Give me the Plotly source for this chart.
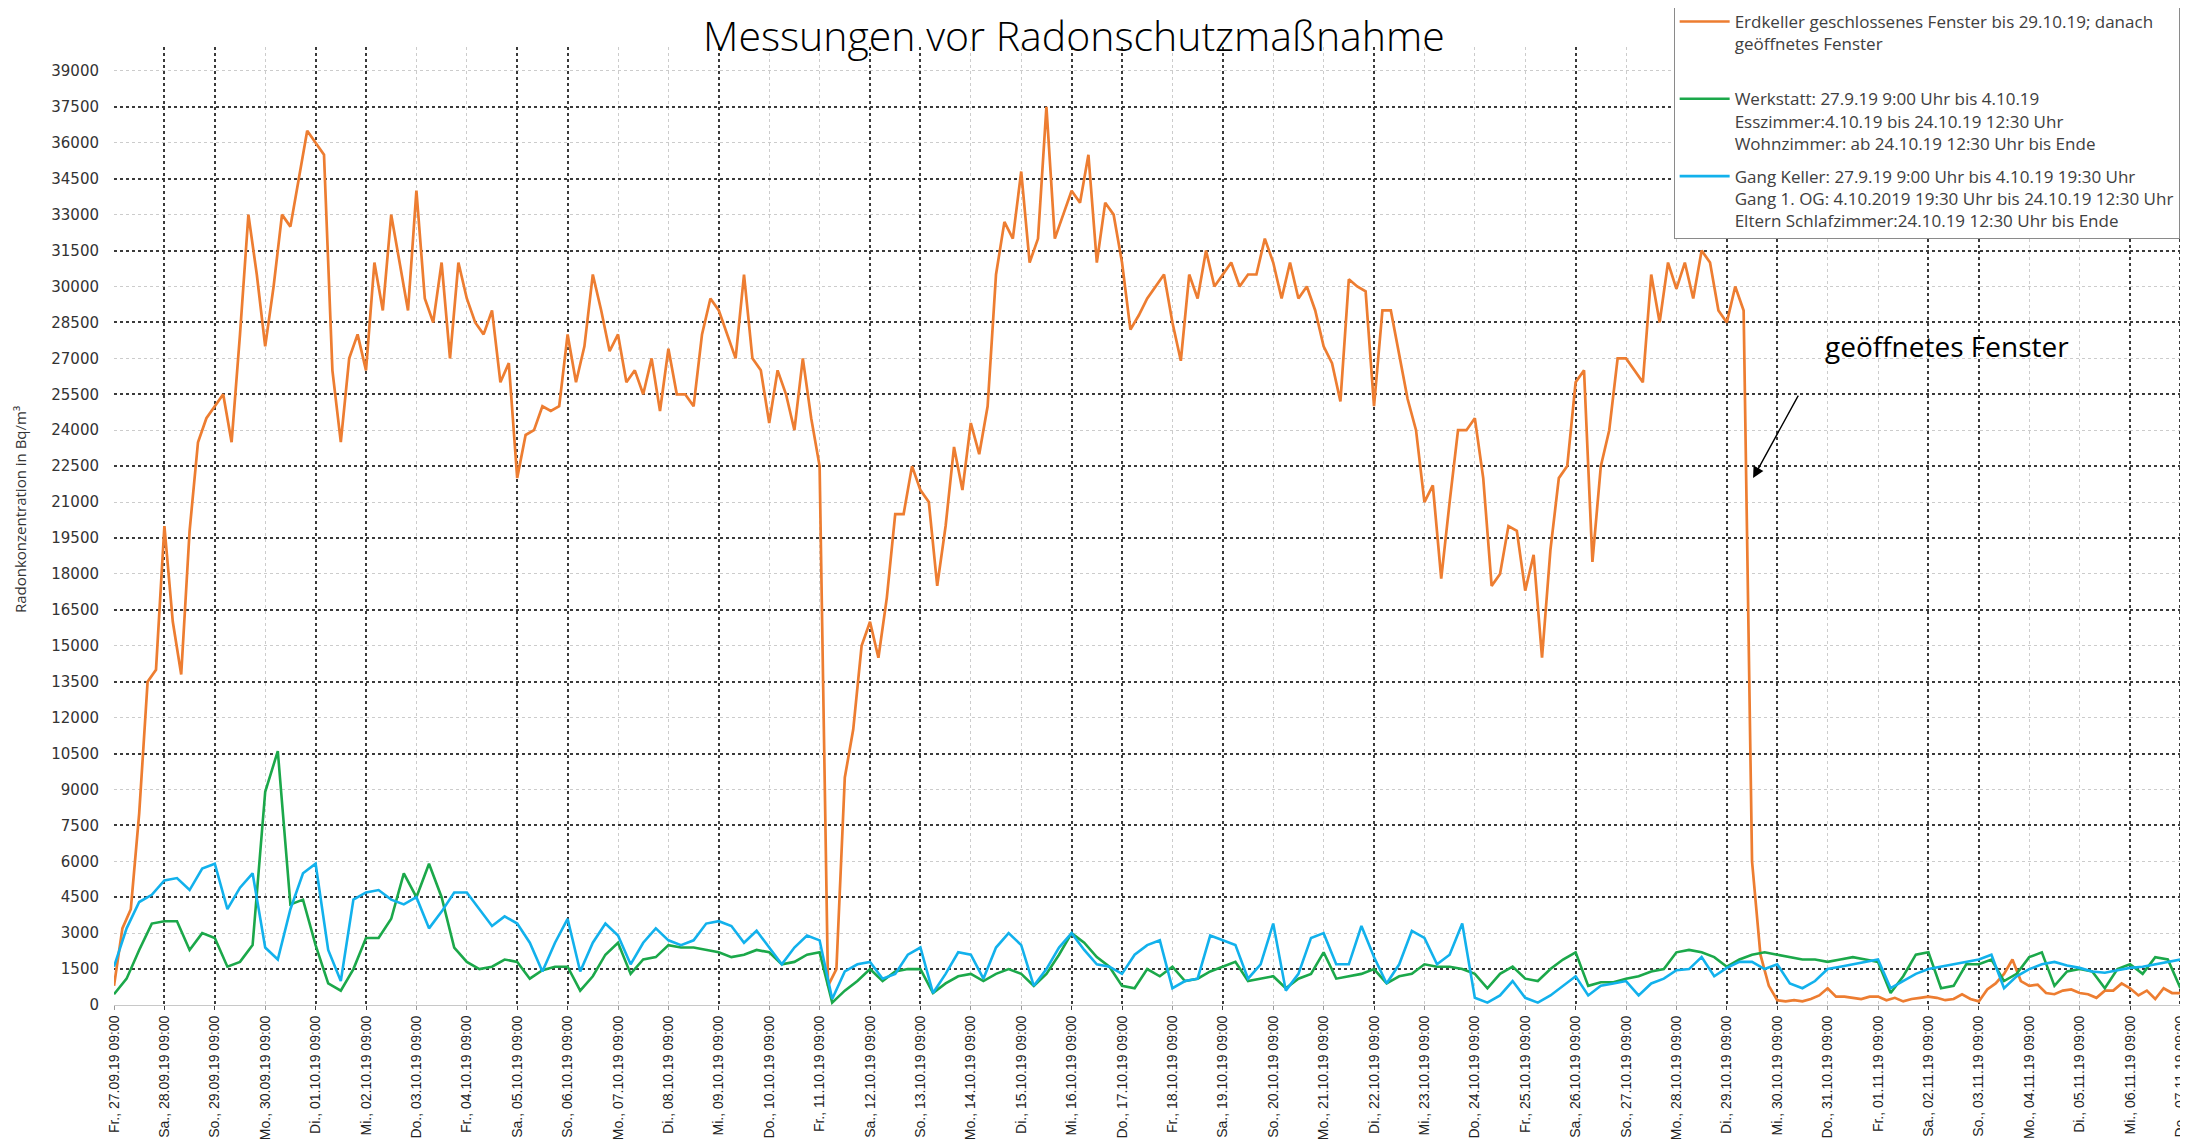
import pandas as pd
import plotly.graph_objects as go

# Messwerte in Bq/m³, Erdkeller alle 4 Stunden, die anderen alle 6 Stunden ab 27.09.19 09:00
ERDKELLER = [
    800, 3200, 4000, 8000, 13500, 14000,
    20000, 16000, 13800, 19800, 23500, 24500,
    25000, 25500, 23500, 28000, 33000, 30500,
    27500, 30000, 33000, 32500, 34500, 36500,
    36000, 35500, 26500, 23500, 27000, 28000,
    26500, 31000, 29000, 33000, 31000, 29000,
    34000, 29500, 28500, 31000, 27000, 31000,
    29500, 28500, 28000, 29000, 26000, 26800,
    22000, 23800, 24000, 25000, 24800, 25000,
    28000, 26000, 27500, 30500, 29000, 27300,
    28000, 26000, 26500, 25500, 27000, 24800,
    27400, 25500, 25500, 25000, 28000, 29500,
    29000, 28000, 27000, 30500, 27000, 26500,
    24300, 26500, 25500, 24000, 27000, 24500,
    22500, 800, 1500, 9500, 11500, 15000,
    16000, 14500, 17000, 20500, 20500, 22500,
    21500, 21000, 17500, 20000, 23300, 21500,
    24300, 23000, 25000, 30500, 32700, 32000,
    34800, 31000, 32000, 37500, 32000, 33000,
    34000, 33500, 35500, 31000, 33500, 33000,
    31000, 28200, 28800, 29500, 30000, 30500,
    28500, 26900, 30500, 29500, 31500, 30000,
    30500, 31000, 30000, 30500, 30500, 32000,
    31000, 29500, 31000, 29500, 30000, 29000,
    27500, 26800, 25200, 30300, 30000, 29800,
    25000, 29000, 29000, 27200, 25300, 24000,
    21000, 21700, 17800, 21000, 24000, 24000,
    24500, 22000, 17500, 18000, 20000, 19800,
    17300, 18800, 14500, 19000, 22000, 22500,
    26000, 26500, 18500, 22500, 24000, 27000,
    27000, 26500, 26000, 30500, 28500, 31000,
    29900, 31000, 29500, 31500, 31000, 29000,
    28500, 30000, 29000, 6000, 2100, 800,
    200, 150, 200, 150, 250, 400,
    700, 350, 350, 300, 250, 350,
    350, 200, 300, 150, 250, 300,
    350, 300, 200, 250, 450, 250,
    150, 650, 900, 1300, 1900, 1000,
    800, 850, 500, 450, 600, 650,
    500, 450, 300, 600, 600, 900,
    700, 400, 600, 250, 700, 500,
    500, 1100,
]

WERKSTATT = [
    450, 1100, 2300, 3400,
    3500, 3500, 2300, 3000,
    2800, 1600, 1800, 2500,
    8900, 10600, 4200, 4400,
    2500, 900, 600, 1500,
    2800, 2800, 3600, 5500,
    4500, 5900, 4500, 2400,
    1800, 1500, 1600, 1900,
    1800, 1100, 1450, 1600,
    1600, 600, 1200, 2100,
    2600, 1300, 1900, 2000,
    2500, 2400, 2400, 2300,
    2200, 2000, 2100, 2300,
    2200, 1700, 1800, 2100,
    2200, 100, 600, 1000,
    1500, 1000, 1400, 1500,
    1500, 500, 900, 1200,
    1300, 1000, 1300, 1500,
    1300, 800, 1300, 2100,
    3000, 2600, 2000, 1600,
    800, 700, 1500, 1200,
    1600, 1000, 1100, 1400,
    1600, 1800, 1000, 1100,
    1200, 700, 1100, 1300,
    2200, 1100, 1200, 1300,
    1500, 900, 1200, 1300,
    1700, 1600, 1600, 1500,
    1300, 700, 1300, 1600,
    1100, 1000, 1500, 1900,
    2200, 800, 950, 950,
    1100, 1200, 1400, 1500,
    2200, 2300, 2200, 2000,
    1600, 1900, 2100, 2200,
    2100, 2000, 1900, 1900,
    1800, 1900, 2000, 1900,
    1800, 500, 1200, 2100,
    2200, 700, 800, 1700,
    1700, 1900, 1000, 1300,
    2000, 2200, 800, 1400,
    1500, 1400, 700, 1500,
    1700, 1300, 2000, 1900,
    700,
]

GANG = [
    1600, 3200, 4300, 4600,
    5200, 5300, 4800, 5700,
    5900, 4000, 4900, 5500,
    2400, 1900, 4000, 5500,
    5900, 2300, 1000, 4400,
    4700, 4800, 4400, 4200,
    4500, 3200, 3900, 4700,
    4700, 4000, 3300, 3700,
    3400, 2600, 1400, 2600,
    3600, 1400, 2600, 3400,
    2900, 1700, 2600, 3200,
    2700, 2500, 2700, 3400,
    3500, 3300, 2600, 3100,
    2400, 1700, 2400, 2900,
    2700, 250, 1400, 1700,
    1800, 1100, 1300, 2100,
    2400, 500, 1300, 2200,
    2100, 1100, 2400, 3000,
    2500, 800, 1500, 2400,
    3000, 2300, 1700, 1600,
    1300, 2100, 2500, 2700,
    700, 1000, 1100, 2900,
    2700, 2500, 1100, 1700,
    3400, 600, 1300, 2800,
    3000, 1700, 1700, 3300,
    2000, 900, 1700, 3100,
    2800, 1700, 2100, 3400,
    300, 100, 400, 1000,
    300, 100, 400, 800,
    1200, 400, 800, 900,
    1000, 400, 900, 1100,
    1450, 1500, 2000, 1200,
    1550, 1800, 1800, 1500,
    1700, 900, 700, 1000,
    1500, 1600, 1700, 1800,
    1900, 700, 1000, 1300,
    1500, 1600, 1700, 1800,
    1900, 2100, 700, 1200,
    1500, 1700, 1800, 1650,
    1550, 1400, 1350, 1450,
    1550, 1600, 1700, 1800,
    1900,
]

NAME_ERDKELLER = "Erdkeller geschlossenes Fenster bis 29.10.19; danach<br>geöffnetes Fenster<br>&nbsp;"
NAME_WERKSTATT = ("Werkstatt: 27.9.19 9:00 Uhr bis 4.10.19<br>Esszimmer:4.10.19 bis 24.10.19 12:30 Uhr"
                  "<br>Wohnzimmer: ab 24.10.19 12:30 Uhr bis Ende")
NAME_GANG = ("Gang Keller: 27.9.19 9:00 Uhr bis 4.10.19 19:30 Uhr<br>Gang 1. OG: 4.10.2019 19:30 Uhr bis 24.10.19 12:30 Uhr"
             "<br>Eltern Schlafzimmer:24.10.19 12:30 Uhr bis Ende")

WOCHENTAGE = ['Mo.', 'Di.', 'Mi.', 'Do.', 'Fr.', 'Sa.', 'So.']
Y_TICKS = list(range(0, 39001, 1500))
DUNKLE_TAGE = [1, 2, 4, 5, 8, 9, 12, 15, 16, 19, 20, 22, 25, 29, 32, 33, 36, 37, 40, 41]

start = pd.Timestamp('2019-09-27 09:00')
ende = start + pd.Timedelta(days=41.15)
zeit_4h = pd.date_range(start, periods=len(ERDKELLER), freq='4h')
zeit_6h = pd.date_range(start, periods=len(WERKSTATT), freq='6h')
tage = pd.date_range(start, periods=42, freq='D')
tag_labels = [f"{WOCHENTAGE[t.dayofweek]}, {t:%d.%m.%y} 09:00" for t in tage]

fig = go.Figure()
fig.add_trace(go.Scatter(x=zeit_4h, y=ERDKELLER, mode='lines', name=NAME_ERDKELLER,
                         line=dict(color='#ED7D31', width=2.7), legendgroup='a'))
fig.add_trace(go.Scatter(x=zeit_6h, y=WERKSTATT, mode='lines', name=NAME_WERKSTATT,
                         line=dict(color='#1BA84A', width=2.6), legendgroup='b'))
fig.add_trace(go.Scatter(x=zeit_6h, y=GANG, mode='lines', name=NAME_GANG,
                         line=dict(color='#12B1EC', width=2.6), legendgroup='c'))
# leere Spur, damit die zweite Achse (dunkles Gitter) gezeichnet wird
fig.add_trace(go.Scatter(x=[], y=[], xaxis='x2', yaxis='y2', showlegend=False, hoverinfo='skip'))

hell = '#cccccc'
dunkel = '#3a3a3a'

# die Seite hat 8px Rand, daher Figur 8px kleiner und nach oben/links verschoben
fig.update_layout(
    width=2180, height=1136,
    margin=dict(l=106, r=0, t=39, b=139, autoexpand=False),
    paper_bgcolor='white', plot_bgcolor='white',
    font=dict(family='DejaVu Sans', color='#333'),
    xaxis=dict(type='date', range=[start, ende], tickvals=tage, ticktext=tag_labels, tickangle=-90,
               tickfont=dict(family='Liberation Sans', size=14, color='#222'),
               showgrid=True, gridcolor=hell, griddash='dot', gridwidth=1,
               ticks='outside', ticklen=4, tickcolor='#999', automargin=False,
               showline=True, linecolor='#c8c8c8', zeroline=False),
    yaxis=dict(range=[0, 40000], tickvals=Y_TICKS, ticktext=[str(v) for v in Y_TICKS],
               tickfont=dict(family='DejaVu Sans', size=15, color='#333'), ticklabelstandoff=14,
               showgrid=True, gridcolor=hell, griddash='dot', gridwidth=1, zeroline=False,
               automargin=False),
    xaxis2=dict(type='date', overlaying='x', anchor='y2', range=[start, ende],
                tickvals=[tage[i] for i in DUNKLE_TAGE], showticklabels=False,
                showgrid=True, gridcolor=dunkel, griddash='dot', gridwidth=1.6,
                ticks='outside', ticklen=4, tickcolor=dunkel, zeroline=False),
    yaxis2=dict(overlaying='y', anchor='x2', range=[0, 40000], tickvals=Y_TICKS[1::2], showticklabels=False,
                showgrid=True, gridcolor=dunkel, griddash='dot', gridwidth=1.6, zeroline=False),
    legend=dict(x=0.752, xanchor='left', y=1.046, yanchor='top', bgcolor='white',
                bordercolor='#8a8a8a', borderwidth=1, valign='top', tracegroupgap=8, itemwidth=50,
                font=dict(family='Open Sans', size=17, color='#404040')),
    showlegend=True,
)

# weisser Kasten hinter dem Titel
fig.add_shape(type='rect', xref='paper', yref='paper', x0=0.271, x1=0.752, y0=0.9676, y1=1.07,
              fillcolor='white', line=dict(width=0), layer='between')

fig.add_annotation(text='Messungen vor Radonschutzmaßnahme', xref='paper', yref='paper',
                   x=0.463, y=1.0125, xanchor='center', yanchor='middle', showarrow=False,
                   font=dict(family='Open Sans', size=41, color='black', weight=300))
fig.add_annotation(text='Radonkonzentration in Bq/m³', xref='paper', yref='paper',
                   x=-0.0453, y=0.5167, xanchor='center', yanchor='middle', textangle=-90,
                   showarrow=False, font=dict(family='Open Sans', size=15, color='#333'))
fig.add_annotation(text='geöffnetes Fenster', xref='paper', yref='paper', x=0.884, y=0.688,
                   xanchor='center', yanchor='middle', showarrow=False,
                   font=dict(family='Open Sans', size=28, color='black'))
fig.add_annotation(text='', x=start + pd.Timedelta(hours=32 * 24 + 12.5), y=22000,
                   showarrow=True, ax=46, ay=-84, arrowhead=2, arrowsize=1.6, arrowwidth=1.4,
                   arrowcolor='black', standoff=0)

fig.write_html('out.html')
